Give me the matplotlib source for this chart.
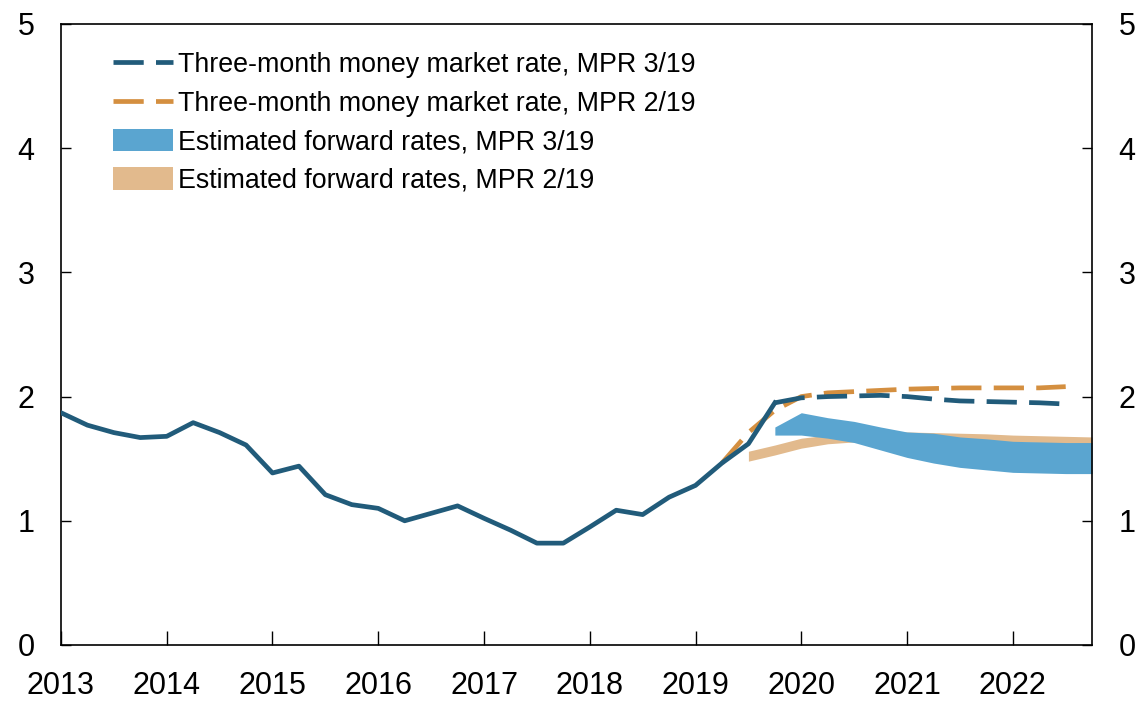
import numpy as np
import matplotlib
matplotlib.use("Agg")
import matplotlib.pyplot as plt
from matplotlib.lines import Line2D
from matplotlib.patches import Patch

plt.rcParams['font.family'] = ['Liberation Sans', 'DejaVu Sans']

# quarterly history, 2013Q1 - 2019Q4
hist_x = 2013 + 0.25 * np.arange(28)
hist_y = [1.87, 1.77, 1.71, 1.67, 1.68, 1.79, 1.71, 1.61,
          1.385, 1.44, 1.21, 1.13, 1.10, 1.00, 1.06, 1.12,
          1.02, 0.925, 0.82, 0.82, 0.95, 1.085, 1.05, 1.19,
          1.285, 1.465, 1.62, 1.95]

# MPR 3/19 three-month rate, forecast part
mpr3_x = 2019.75 + 0.25 * np.arange(12)
mpr3_y = [1.95, 1.99, 2.00, 2.005, 2.01, 2.00, 1.98, 1.965, 1.96, 1.955, 1.95, 1.94]

# MPR 2/19 three-month rate
mpr2_x = 2019.25 + 0.25 * np.arange(14)
mpr2_y = [1.465, 1.71, 1.89, 2.00, 2.03, 2.04, 2.05, 2.06, 2.065, 2.07, 2.07, 2.07, 2.07, 2.08]

# estimated forward rates, MPR 3/19
fwd3_x = 2019.75 + 0.25 * np.arange(13)
fwd3_hi = [1.755, 1.87, 1.83, 1.80, 1.755, 1.715, 1.705, 1.675, 1.66, 1.64, 1.635, 1.63, 1.63]
fwd3_lo = [1.69, 1.69, 1.665, 1.63, 1.57, 1.51, 1.465, 1.43, 1.41, 1.39, 1.385, 1.38, 1.38]

# estimated forward rates, MPR 2/19
fwd2_x = 2019.5 + 0.25 * np.arange(14)
fwd2_hi = [1.56, 1.61, 1.665, 1.69, 1.70, 1.71, 1.715, 1.71, 1.705, 1.70, 1.69, 1.685, 1.68, 1.675]
fwd2_lo = [1.48, 1.53, 1.585, 1.62, 1.635, 1.645, 1.65, 1.65, 1.645, 1.64, 1.635, 1.63, 1.625, 1.62]

years = list(range(2013, 2023))

c_dark = '#215B7A'
c_org = '#D48F40'
c_lblue = '#5AA5D0'
c_lorg = '#E2BA8D'

fig = plt.figure(figsize=(11.46, 7.01), dpi=100)
ax = fig.add_axes([0.0532, 0.0799, 0.8998, 0.8859])

ax.fill_between(fwd2_x, fwd2_lo, fwd2_hi, color=c_lorg, lw=0, zorder=1)
ax.fill_between(fwd3_x, fwd3_lo, fwd3_hi, color=c_lblue, lw=0, zorder=2)

lw = 3.4
dash = (0, (6.4, 2.6))
ax.plot(mpr2_x, mpr2_y, color=c_org, lw=lw, linestyle=dash, zorder=3)
ax.plot(hist_x, hist_y, color=c_dark, lw=lw, zorder=4)
ax.plot(mpr3_x, mpr3_y, color=c_dark, lw=lw, linestyle=dash, zorder=4)

ax.set_xlim(2013, 2022.75)
ax.set_ylim(0, 5)
ax.set_xticks(years)
ax.set_xticklabels([str(y) for y in years])
ax.set_yticks(range(6))

ax.tick_params(axis='x', direction='in', length=10, width=1, pad=18.5, labelsize=22)
ax.tick_params(axis='y', direction='in', length=7, width=1, pad=19, labelsize=22,
               right=True, labelright=True)
for s in ax.spines.values():
    s.set_linewidth(1.2)

handles = [
    Line2D([0], [0], color=c_dark, lw=lw, linestyle=dash),
    Line2D([0], [0], color=c_org, lw=lw, linestyle=dash),
    Patch(facecolor=c_lblue, edgecolor='none'),
    Patch(facecolor=c_lorg, edgecolor='none'),
]
labels = ['Three-month money market rate, MPR 3/19',
          'Three-month money market rate, MPR 2/19',
          'Estimated forward rates, MPR 3/19',
          'Estimated forward rates, MPR 2/19']
ax.legend(handles, labels, loc='upper left', bbox_to_anchor=(0.040, 0.972),
          frameon=False, fontsize=19.3, handlelength=2.24, handleheight=0.9,
          handletextpad=0.18, labelspacing=0.45, borderaxespad=0)

fig.savefig('out.png', dpi=100)
